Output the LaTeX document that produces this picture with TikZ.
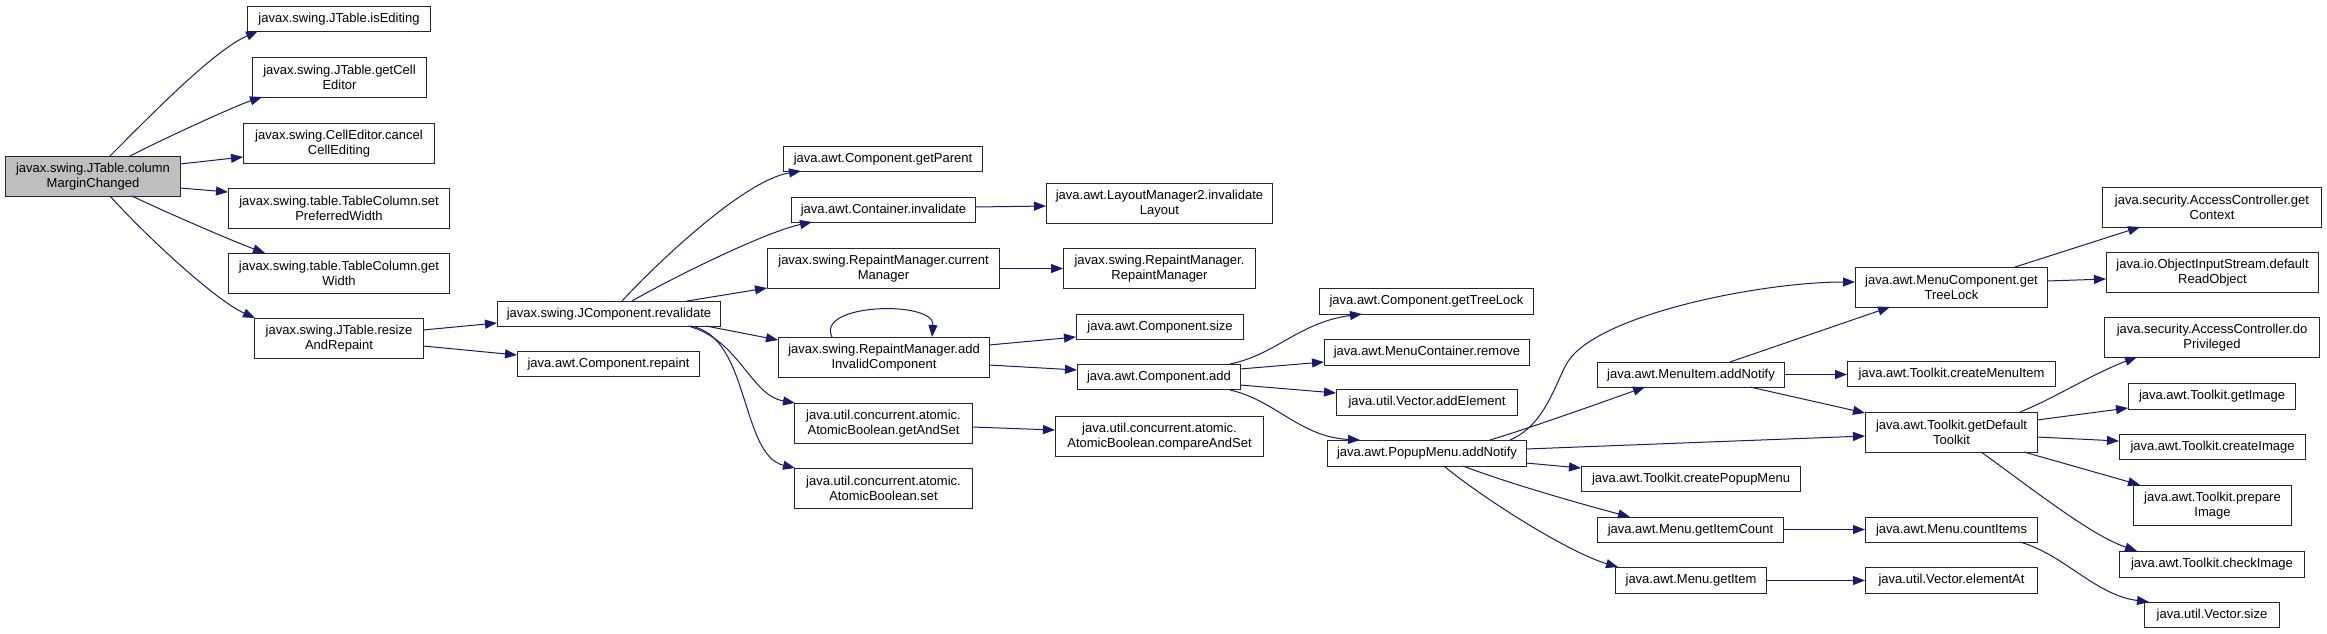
\documentclass[tikz,border=0pt]{standalone}
\usepackage{fontspec}
\setmainfont{Liberation Sans}
\usetikzlibrary{arrows.meta,calc}
\definecolor{navy}{RGB}{25,25,112}
\begin{document}
\begin{tikzpicture}[x=1pt,y=-1pt,
  box/.style={draw=black!85,line width=1pt,fill=white,inner sep=0pt,anchor=north west,align=center,font=\fontsize{13}{14.7}\selectfont},
  conn/.style={draw=navy,line width=1pt,-{Triangle[length=12pt,width=9pt]}}]
\useasboundingbox (0,0) rectangle (2327,633);
% column 0-1
\node[box,minimum width=175pt,minimum height=40pt,fill=black!25] (main) at (5,156) {javax.swing.JTable.column\\MarginChanged};
\node[box,minimum width=183pt,minimum height=25pt] (isEditing) at (247,6) {javax.swing.JTable.isEditing};
\node[box,minimum width=174pt,minimum height=40pt] (getCellEditor) at (252,57) {javax.swing.JTable.getCell\\Editor};
\node[box,minimum width=191pt,minimum height=40pt] (cancel) at (243,123) {javax.swing.CellEditor.cancel\\CellEditing};
\node[box,minimum width=221pt,minimum height=40pt] (setPref) at (228,188) {javax.swing.table.TableColumn.set\\PreferredWidth};
\node[box,minimum width=221pt,minimum height=40pt] (getWidth) at (228,253) {javax.swing.table.TableColumn.get\\Width};
\node[box,minimum width=169pt,minimum height=40pt] (resize) at (254,318) {javax.swing.JTable.resize\\AndRepaint};
% column 2
\node[box,minimum width=223pt,minimum height=25pt] (revalidate) at (497,301) {javax.swing.JComponent.revalidate};
\node[box,minimum width=182pt,minimum height=25pt] (repaint) at (517,351) {java.awt.Component.repaint};
% column 3
\node[box,minimum width=199pt,minimum height=25pt] (getParent) at (783,146) {java.awt.Component.getParent};
\node[box,minimum width=184pt,minimum height=25pt] (contInvalidate) at (791,197) {java.awt.Container.invalidate};
\node[box,minimum width=232pt,minimum height=40pt] (currentManager) at (767,248) {javax.swing.RepaintManager.current\\Manager};
\node[box,minimum width=211pt,minimum height=40pt] (addInvalid) at (778,337) {javax.swing.RepaintManager.add\\InvalidComponent};
\node[box,minimum width=178pt,minimum height=40pt] (getAndSet) at (794,403) {java.util.concurrent.atomic.\\AtomicBoolean.getAndSet};
\node[box,minimum width=178pt,minimum height=40pt] (abSet) at (794,468) {java.util.concurrent.atomic.\\AtomicBoolean.set};
% column 4
\node[box,minimum width=226pt,minimum height=40pt] (layout) at (1046,183) {java.awt.LayoutManager2.invalidate\\Layout};
\node[box,minimum width=192pt,minimum height=40pt] (rmCtor) at (1063,248) {javax.swing.RepaintManager.\\RepaintManager};
\node[box,minimum width=167pt,minimum height=25pt] (size) at (1076,314) {java.awt.Component.size};
\node[box,minimum width=163pt,minimum height=25pt] (add) at (1077,364) {java.awt.Component.add};
\node[box,minimum width=208pt,minimum height=40pt] (cas) at (1055,416) {java.util.concurrent.atomic.\\AtomicBoolean.compareAndSet};
% column 5
\node[box,minimum width=214pt,minimum height=26pt] (compTreeLock) at (1319,288) {java.awt.Component.getTreeLock};
\node[box,minimum width=205pt,minimum height=26pt] (mcRemove) at (1324,339) {java.awt.MenuContainer.remove};
\node[box,minimum width=181pt,minimum height=26pt] (addElement) at (1336,389) {java.util.Vector.addElement};
\node[box,minimum width=199pt,minimum height=26pt] (popup) at (1327,440) {java.awt.PopupMenu.addNotify};
% column 6
\node[box,minimum width=187pt,minimum height=25pt] (menuItem) at (1597,362) {java.awt.MenuItem.addNotify};
\node[box,minimum width=219pt,minimum height=25pt] (createPopupMenu) at (1581,466) {java.awt.Toolkit.createPopupMenu};
\node[box,minimum width=186pt,minimum height=25pt] (getItemCount) at (1597,517) {java.awt.Menu.getItemCount};
\node[box,minimum width=151pt,minimum height=26pt] (getItem) at (1615,567) {java.awt.Menu.getItem};
% column 7
\node[box,minimum width=192pt,minimum height=40pt] (mcTreeLock) at (1855,267) {java.awt.MenuComponent.get\\TreeLock};
\node[box,minimum width=208pt,minimum height=25pt] (createMenuItem) at (1847,361) {java.awt.Toolkit.createMenuItem};
\node[box,minimum width=172pt,minimum height=40pt] (defaultToolkit) at (1865,412) {java.awt.Toolkit.getDefault\\Toolkit};
\node[box,minimum width=172pt,minimum height=25pt] (countItems) at (1865,517) {java.awt.Menu.countItems};
\node[box,minimum width=172pt,minimum height=26pt] (elementAt) at (1865,567) {java.util.Vector.elementAt};
% column 8
\node[box,minimum width=219pt,minimum height=40pt] (getContext) at (2102,187) {java.security.AccessController.get\\Context};
\node[box,minimum width=212pt,minimum height=40pt] (readObject) at (2106,252) {java.io.ObjectInputStream.default\\ReadObject};
\node[box,minimum width=215pt,minimum height=40pt] (doPrivileged) at (2104,317) {java.security.AccessController.do\\Privileged};
\node[box,minimum width=167pt,minimum height=26pt] (getImage) at (2128,383) {java.awt.Toolkit.getImage};
\node[box,minimum width=186pt,minimum height=25pt] (createImage) at (2119,434) {java.awt.Toolkit.createImage};
\node[box,minimum width=158pt,minimum height=40pt] (prepareImage) at (2133,485) {java.awt.Toolkit.prepare\\Image};
\node[box,minimum width=185pt,minimum height=26pt] (checkImage) at (2119,551) {java.awt.Toolkit.checkImage};
\node[box,minimum width=135pt,minimum height=25pt] (vectorSize) at (2144,602) {java.util.Vector.size};
% edges from main
\draw[conn] ($(main.north west)+(105,0)$) .. controls (150,116) and (213,51) .. ($(isEditing.north west)+(11,25)$);
\draw[conn] ($(main.north west)+(125,0)$) .. controls (165,138) and (235,106) .. ($(getCellEditor.north west)+(10,40)$);
\draw[conn] ($(main.north west)+(175,8)$) -- ($(cancel.north west)+(0,34)$);
\draw[conn] ($(main.north west)+(175,32)$) -- ($(setPref.north west)+(0,4)$);
\draw[conn] ($(main.north west)+(127,40)$) .. controls (165,212) and (235,242) .. ($(getWidth.north west)+(37,0)$);
\draw[conn] ($(main.north west)+(105,40)$) .. controls (145,235) and (215,300) .. ($(resize.north west)+(1,0)$);
% resize
\draw[conn] ($(resize.north west)+(169,12)$) -- ($(revalidate.north west)+(0,22)$);
\draw[conn] ($(resize.north west)+(169,28)$) -- ($(repaint.north west)+(0,4)$);
% revalidate
\draw[conn] ($(revalidate.north west)+(125,0)$) .. controls (660,260) and (745,180) .. ($(getParent.north west)+(18,25)$);
\draw[conn] ($(revalidate.north west)+(135,0)$) .. controls (672,278) and (765,232) .. ($(contInvalidate.north west)+(21,25)$);
\draw[conn] ($(revalidate.north west)+(190,0)$) -- ($(currentManager.north west)+(0,40)$);
\draw[conn] ($(revalidate.north west)+(209,25)$) -- ($(addInvalid.north west)+(0,3)$);
\draw[conn] ($(revalidate.north west)+(191,25)$) .. controls (740,340) and (750,395) .. ($(getAndSet.north west)+(1,0)$);
\draw[conn] ($(revalidate.north west)+(193,25)$) .. controls (750,335) and (740,455) .. ($(abSet.north west)+(1,0)$);
% self loop
\draw[conn] ($(addInvalid.north west)+(54,0)$) .. controls (815,303) and (935,300) .. ($(addInvalid.north west)+(154,0)$);
% column 3 -> 4
\draw[conn] ($(contInvalidate.north west)+(184,10)$) -- ($(layout.north west)+(0,23)$);
\draw[conn] ($(currentManager.north west)+(232,20.5)$) -- ($(rmCtor.north west)+(0,20.5)$);
\draw[conn] ($(addInvalid.north west)+(211,8)$) -- ($(size.north west)+(0,23)$);
\draw[conn] ($(addInvalid.north west)+(211,28)$) -- ($(add.north west)+(0,6)$);
\draw[conn] ($(getAndSet.north west)+(178,24)$) -- ($(cas.north west)+(0,14)$);
% add
\draw[conn] ($(add.north west)+(153,0)$) .. controls (1275,355) and (1300,322) .. ($(compTreeLock.north west)+(43,26)$);
\draw[conn] ($(add.north west)+(163,5)$) -- ($(mcRemove.north west)+(0,23)$);
\draw[conn] ($(add.north west)+(163,21)$) -- ($(addElement.north west)+(0,4)$);
\draw[conn] ($(add.north west)+(153,26)$) .. controls (1275,400) and (1300,437) .. ($(popup.north west)+(33,0)$);
% popup
\draw[conn] ($(popup.north west)+(183,0)$) .. controls (1545,425) and (1555,384) .. (1567,363) .. controls (1595,315) and (1760,282) .. ($(mcTreeLock.north west)+(0,15)$);
\draw[conn] ($(popup.north west)+(163,0)$) .. controls (1530,428) and (1600,403) .. ($(menuItem.north west)+(48,25)$);
\draw[conn] ($(popup.north west)+(199,9)$) -- ($(defaultToolkit.north west)+(0,24)$);
\draw[conn] ($(popup.north west)+(199,23)$) -- ($(createPopupMenu.north west)+(0,2)$);
\draw[conn] ($(popup.north west)+(136,26)$) .. controls (1510,484) and (1585,505) .. ($(getItemCount.north west)+(33,0)$);
\draw[conn] ($(popup.north west)+(117,26)$) .. controls (1485,500) and (1570,553) .. ($(getItem.north west)+(3,0)$);
% menuItem
\draw[conn] ($(menuItem.north west)+(133,0)$) -- ($(mcTreeLock.north west)+(35,40)$);
\draw[conn] ($(menuItem.north west)+(187,12.5)$) -- ($(createMenuItem.north west)+(0,13.5)$);
\draw[conn] ($(menuItem.north west)+(153,25)$) -- ($(defaultToolkit.north west)+(0,1)$);
% mcTreeLock
\draw[conn] ($(mcTreeLock.north west)+(160,0)$) -- ($(getContext.north west)+(38,40)$);
\draw[conn] ($(mcTreeLock.north west)+(192,14)$) -- ($(readObject.north west)+(0,27)$);
% defaultToolkit
\draw[conn] ($(defaultToolkit.north west)+(155,0)$) .. controls (2055,398) and (2092,374) .. ($(doPrivileged.north west)+(33,40)$);
\draw[conn] ($(defaultToolkit.north west)+(172,8)$) -- ($(getImage.north west)+(0,25)$);
\draw[conn] ($(defaultToolkit.north west)+(172,25)$) -- ($(createImage.north west)+(0,7)$);
\draw[conn] ($(defaultToolkit.north west)+(159,40)$) -- ($(prepareImage.north west)+(7,0)$);
\draw[conn] ($(defaultToolkit.north west)+(116,40)$) .. controls (2030,487) and (2090,535) .. ($(checkImage.north west)+(18,0)$);
% menu items
\draw[conn] ($(getItemCount.north west)+(186,12.5)$) -- ($(countItems.north west)+(0,12.5)$);
\draw[conn] ($(getItem.north west)+(151,13.5)$) -- ($(elementAt.north west)+(0,13.5)$);
\draw[conn] ($(countItems.north west)+(155,25)$) .. controls (2065,555) and (2095,595) .. ($(vectorSize.north west)+(5,0)$);
\end{tikzpicture}
\end{document}
